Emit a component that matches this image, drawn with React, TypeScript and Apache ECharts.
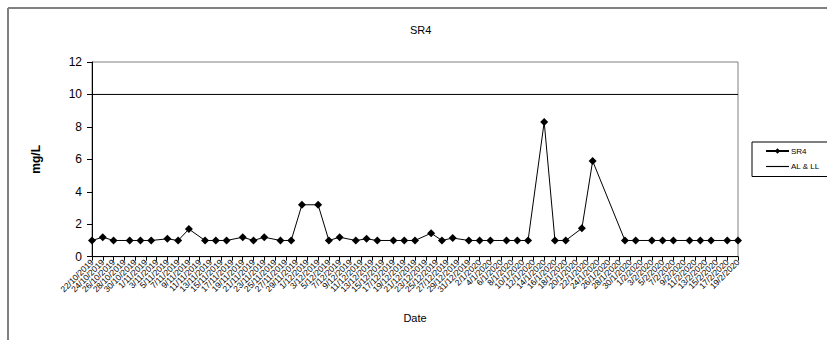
import React, { useEffect, useRef } from "react";
import * as echarts from "echarts";

// ---- data ----
const AXIS_START = "22/10/2019";
const AXIS_END = "19/2/2020";
const X_TICK_STEP_DAYS = 2;
const Y_MIN = 0;
const Y_MAX = 12;
const Y_STEP = 2;

const sampleDates = [
  "22/10/2019", "24/10/2019", "26/10/2019", "29/10/2019", "31/10/2019", "2/11/2019",
  "5/11/2019", "7/11/2019", "9/11/2019", "12/11/2019", "14/11/2019", "16/11/2019",
  "19/11/2019", "21/11/2019", "23/11/2019", "26/11/2019", "28/11/2019", "30/11/2019",
  "3/12/2019", "5/12/2019", "7/12/2019", "10/12/2019", "12/12/2019", "14/12/2019",
  "17/12/2019", "19/12/2019", "21/12/2019", "24/12/2019", "26/12/2019", "28/12/2019",
  "31/12/2019", "2/1/2020", "4/1/2020", "7/1/2020", "9/1/2020", "11/1/2020",
  "14/1/2020", "16/1/2020", "18/1/2020", "21/1/2020", "23/1/2020", "29/1/2020",
  "31/1/2020", "3/2/2020", "5/2/2020", "7/2/2020", "10/2/2020", "12/2/2020",
  "14/2/2020", "17/2/2020", "19/2/2020",
];

const sr4Values = [
  1.0, 1.2, 1.0, 1.0, 1.0, 1.0,
  1.1, 1.0, 1.7, 1.0, 1.0, 1.0,
  1.2, 1.0, 1.2, 1.0, 1.0, 3.2,
  3.2, 1.0, 1.2, 1.0, 1.1, 1.0,
  1.0, 1.0, 1.0, 1.45, 1.0, 1.15,
  1.0, 1.0, 1.0, 1.0, 1.0, 1.0,
  8.3, 1.0, 1.0, 1.75, 5.9, 1.0,
  1.0, 1.0, 1.0, 1.0, 1.0, 1.0,
  1.0, 1.0, 1.0,
];

const alLimitDates = [AXIS_START, AXIS_END];
const alLimitValues = [10, 10];

// ---- helpers ----
const DAY = 86400000;
function parseDate(d: string): number {
  const [dd, mm, yy] = d.split("/").map(Number);
  return Date.UTC(yy, mm - 1, dd);
}
const START_MS = parseDate(AXIS_START);
const dayOf = (d: string) => Math.round((parseDate(d) - START_MS) / DAY);
const fmtDay = (v: number) => {
  const dt = new Date(START_MS + v * DAY);
  return `${dt.getUTCDate()}/${dt.getUTCMonth() + 1}/${dt.getUTCFullYear()}`;
};
const SPAN_DAYS = dayOf(AXIS_END);
// tick labels every 2 days along the date axis
const xTickLabels: string[] = [];
for (let d = 0; d <= SPAN_DAYS; d += X_TICK_STEP_DAYS) xTickLabels.push(fmtDay(d));

const FONT = "'Liberation Sans', Arial, sans-serif";

export default function App() {
  const ref = useRef<HTMLDivElement>(null);
  useEffect(() => {
    if (!ref.current) return;
    const chart = echarts.init(ref.current, undefined, { renderer: "svg" });
    const sr4Data = sampleDates.map((d, i) => [dayOf(d), sr4Values[i]]);
    const alData = alLimitDates.map((d, i) => [dayOf(d), alLimitValues[i]]);
    chart.setOption({
      animation: false,
      backgroundColor: "#fff",
      textStyle: { fontFamily: FONT, color: "#000" },
      title: {
        text: "SR4",
        left: 410,
        top: 24,
        padding: 0,
        textStyle: { fontSize: 11, fontWeight: "normal", color: "#000", fontFamily: FONT },
      },
      graphic: [
        { type: "line", shape: { x1: 8, y1: 8, x2: 827, y2: 8 }, style: { stroke: "#808080", lineWidth: 2 } },
        { type: "line", shape: { x1: 8, y1: 8, x2: 8, y2: 340 }, style: { stroke: "#808080", lineWidth: 2 } },
      ],
      legend: {
        orient: "vertical",
        left: 752,
        top: 142,
        padding: [5, 9, 6, 13],
        itemGap: 7.5,
        itemWidth: 23,
        itemHeight: 7,
        borderColor: "#000",
        borderWidth: 1,
        textStyle: { fontSize: 8, color: "#000", fontFamily: FONT, padding: [0, 0, 0, -3] },
        data: [
          { name: "SR4" },
          { name: "AL & LL", icon: "path://M0,0H20V1H0Z" },
        ],
      },
      grid: {
        left: 92,
        right: 89,
        top: 62,
        bottom: 83.3,
        show: true,
        borderColor: "#808080",
        borderWidth: 1,
      },
      xAxis: [
        {
          type: "category",
          data: xTickLabels,
          boundaryGap: false,
          name: "Date",
          nameLocation: "middle",
          nameGap: 56,
          nameTextStyle: { fontSize: 11, color: "#000", fontFamily: FONT },
          axisLine: { show: true, lineStyle: { color: "#000", width: 1 } },
          axisTick: { show: true, length: 4, interval: 0, lineStyle: { color: "#000" } },
          splitLine: { show: false },
          axisLabel: {
            interval: 0,
            rotate: 45,
            fontSize: 8.5,
            color: "#000",
            margin: 4,
            fontFamily: FONT,
          },
        },
        {
          type: "value",
          min: 0,
          max: SPAN_DAYS,
          show: false,
          splitLine: { show: false },
        },
      ],
      yAxis: {
        type: "value",
        min: Y_MIN,
        max: Y_MAX,
        interval: Y_STEP,
        name: "mg/L",
        nameLocation: "middle",
        nameGap: 50,
        nameTextStyle: { fontSize: 12, fontWeight: "bold", color: "#000", fontFamily: FONT },
        axisLine: { show: true, lineStyle: { color: "#000", width: 1 } },
        axisTick: { show: true, length: 5, lineStyle: { color: "#000" } },
        splitLine: { show: false },
        axisLabel: { fontSize: 12, color: "#000", margin: 10, fontFamily: FONT },
      },
      series: [
        {
          name: "SR4",
          type: "line",
          xAxisIndex: 1,
          data: sr4Data,
          symbol: "diamond",
          symbolSize: 8,
          z: 3,
          lineStyle: { color: "#000", width: 1 },
          itemStyle: { color: "#000" },
        },
        {
          name: "AL & LL",
          type: "line",
          xAxisIndex: 1,
          data: alData,
          symbol: "none",
          z: 2,
          lineStyle: { color: "#000", width: 1 },
          itemStyle: { color: "#000" },
        },
      ],
    });
    return () => chart.dispose();
  }, []);
  return (
    <div
      ref={ref}
      style={{ position: "absolute", left: 0, top: 0, width: 827, height: 340 }}
    />
  );
}
